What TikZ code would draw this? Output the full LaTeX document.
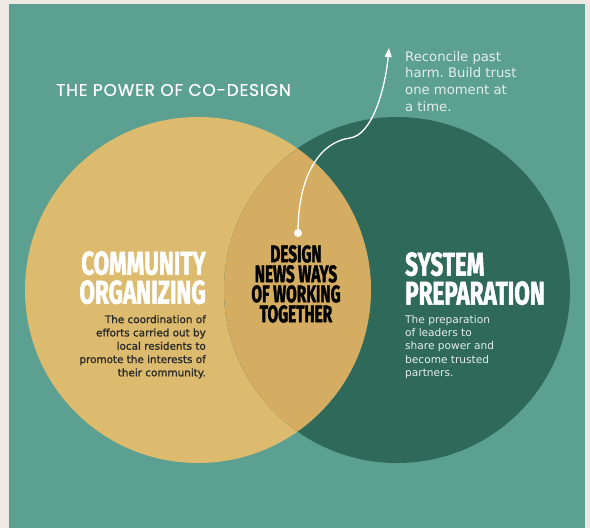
\documentclass[tikz,border=0pt]{standalone}
\usepackage{fontspec}
\setmainfont{DejaVu Sans}
\newfontfamily\headfont{Fira Sans}[FakeStretch=0.68, FakeBold=1.5]
\newfontfamily\midfont{Fira Sans}[FakeStretch=0.64, FakeBold=1.5]
\newfontfamily\titlefont{Poppins}[LetterSpace=4.8, FakeBold=0.6]
\newfontfamily\darkfont{DejaVu Sans}[FakeBold=1.2]
\usetikzlibrary{arrows.meta}
\usepackage{xcolor}
\definecolor{paper}{HTML}{EEEAE3}
\definecolor{bgteal}{HTML}{5BA091}
\definecolor{sand}{HTML}{DDBB6E}
\definecolor{pine}{HTML}{2E6959}
\definecolor{overlap}{HTML}{D4AD62}
\definecolor{ink}{HTML}{2A2A26}
\definecolor{mist}{HTML}{E6EEEA}
\frenchspacing

\begin{document}
\begin{tikzpicture}[x=1pt,y=-1pt,
  heading/.style={inner sep=0pt, font=\headfont\bfseries\fontsize{33}{29}\selectfont},
  blurb/.style={inner sep=0pt, font=\fontsize{10.6}{13.3}\selectfont}]
  \useasboundingbox (0,0) rectangle (590,528);
  \fill[paper] (0,0) rectangle (590,528);
  \fill[bgteal] (9,4) rectangle (585,528);
  % the two circles
  \fill[sand] (198,290) circle (173);
  \fill[pine] (397,290) circle (173);
  \begin{scope}
    \clip (198,290) circle (173);
    \fill[overlap] (397,290) circle (173);
  \end{scope}
  \node[anchor=west, text=white, inner sep=0pt, font=\titlefont\fontsize{17}{20}\selectfont] (title) at (56,90) {THE POWER OF CO-DESIGN};
  \node[heading, anchor=north east, align=right, text=white] (comm) at (206,251) {COMMUNITY\\ORGANIZING};
  \node[blurb, anchor=north east, align=right, text=ink, font=\darkfont\fontsize{10.4}{13.3}\selectfont] (commtxt) at (206,315) {The coordination of\\efforts carried out by\\local residents to\\promote the interests of\\their community.};
  \node[heading, anchor=north west, align=left, text=white] (sys) at (405,252) {SYSTEM\\PREPARATION};
  \node[blurb, anchor=north west, align=left, text=mist] (systxt) at (405,315) {The preparation\\of leaders to\\share power and\\become trusted\\partners.};
  \node[anchor=north, align=center, inner sep=0pt, text=black, font=\midfont\bfseries\fontsize{24}{20}\selectfont] (mid) at (296,245) {DESIGN\\NEWS WAYS\\OF WORKING\\TOGETHER};
  \node[circle, fill=white, minimum size=8pt, inner sep=0pt] (dot) at (298,233) {};
  \coordinate (tip) at (389,48);
  \node[anchor=north west, align=left, inner sep=0pt, text=mist, font=\fontsize{13.2}{16.7}\selectfont] (note) at (405,51) {Reconcile past\\harm. Build trust\\one moment at\\a time.};
  \draw[white, line width=1.3pt, -{Triangle[width=7pt,length=9pt]}] (dot.center) .. controls (298,175) and (320,142) .. (350,138) .. controls (372,135) and (385,90) .. (tip);
\end{tikzpicture}
\end{document}
